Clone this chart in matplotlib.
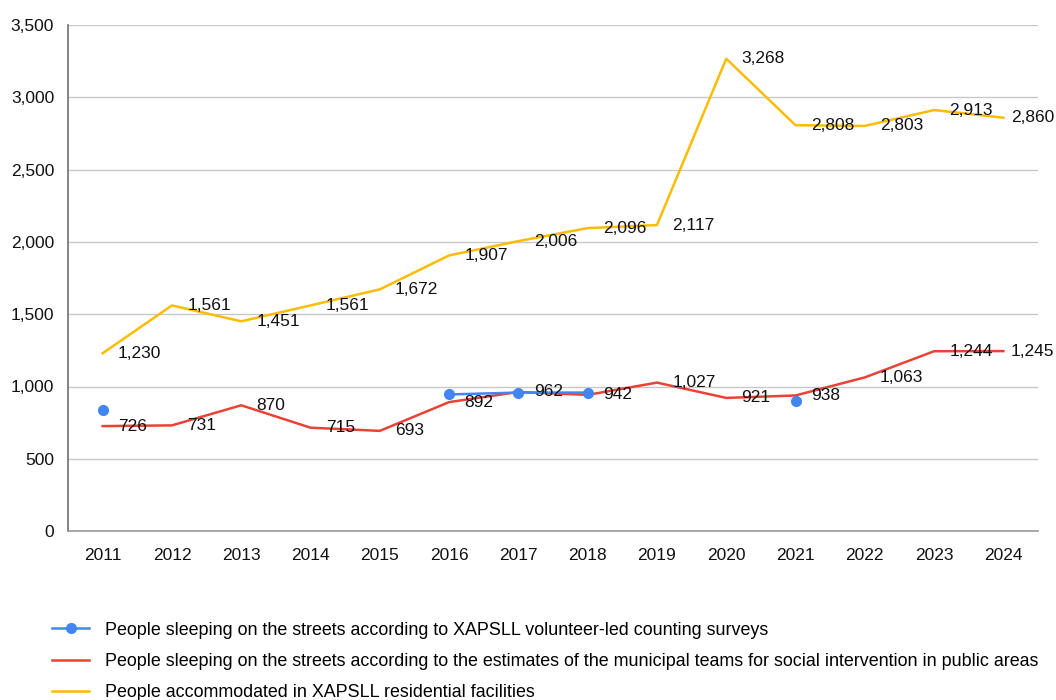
import numpy as np
import matplotlib.pyplot as plt
from matplotlib.ticker import FuncFormatter

plt.rcParams['font.family'] = ['Liberation Sans', 'DejaVu Sans']

# Datos
years = ['2011', '2012', '2013', '2014', '2015', '2016', '2017',
         '2018', '2019', '2020', '2021', '2022', '2023', '2024']
voluntarios = [837, np.nan, np.nan, np.nan, np.nan, 945, 958,
               958, np.nan, np.nan, 897, np.nan, np.nan, np.nan]
equipos_municipales = [726, 731, 870, 715, 693, 892, 962,
                       942, 1027, 921, 938, 1063, 1244, 1245]
alojados = [1230, 1561, 1451, 1561, 1672, 1907, 2006,
            2096, 2117, 3268, 2808, 2803, 2913, 2860]

labels = ['People sleeping on the streets according to XAPSLL volunteer-led counting surveys',
          'People sleeping on the streets according to the estimates of the municipal teams for social intervention in public areas',
          'People accommodated in XAPSLL residential facilities']

azul = '#4285F4'
rojo = '#EA4335'
amarillo = '#FBBC04'

fig = plt.figure(figsize=(10.56, 7), dpi=100)
ax = fig.add_axes([0.0644, 0.2414, 0.9186, 0.7226])

x = np.arange(len(years))
ax.plot(x, voluntarios, color=azul, lw=1.8, marker='o', markersize=7, label=labels[0], zorder=3)
ax.plot(x, equipos_municipales, color=rojo, lw=1.8, label=labels[1], zorder=2)
ax.plot(x, alojados, color=amarillo, lw=1.8, label=labels[2], zorder=2)

# Etiquetas de valores (la última se acerca al punto para que quepa)
for serie in [equipos_municipales, alojados]:
    for xi, v in zip(x, serie):
        dx = 11 if xi < len(years) - 1 else 5.5
        ax.annotate(f'{v:,}', (xi, v), xytext=(dx, 0), textcoords='offset points',
                    ha='left', va='center', fontsize=12.5, color='#111111',
                    annotation_clip=False, zorder=4)

ax.set_xlim(-0.5, len(years) - 0.5)
ax.set_ylim(0, 3500)
ax.set_yticks(np.arange(0, 3501, 500))
ax.yaxis.set_major_formatter(FuncFormatter(lambda v, p: f'{int(v):,}'))
ax.set_xticks(x)
ax.set_xticklabels(years)
ax.tick_params(axis='both', length=0, labelsize=12.5, colors='#111111')
ax.tick_params(axis='x', pad=12)
ax.tick_params(axis='y', pad=10)

ax.grid(axis='y', color='#c8c8c8', lw=1)
ax.set_axisbelow(True)
for s in ['top', 'right']:
    ax.spines[s].set_visible(False)
ax.spines['left'].set_color('#6e6e6e')
ax.spines['bottom'].set_color('#9a9a9a')
ax.spines['left'].set_linewidth(1.2)
ax.spines['bottom'].set_linewidth(1.2)

fig.legend(loc='upper left', bbox_to_anchor=(0.049, 0.112), frameon=False,
           fontsize=12.9, handlelength=2.1, handletextpad=0.85, labelspacing=0.8,
           borderaxespad=0, borderpad=0)

plt.savefig('out.png', dpi=100)
